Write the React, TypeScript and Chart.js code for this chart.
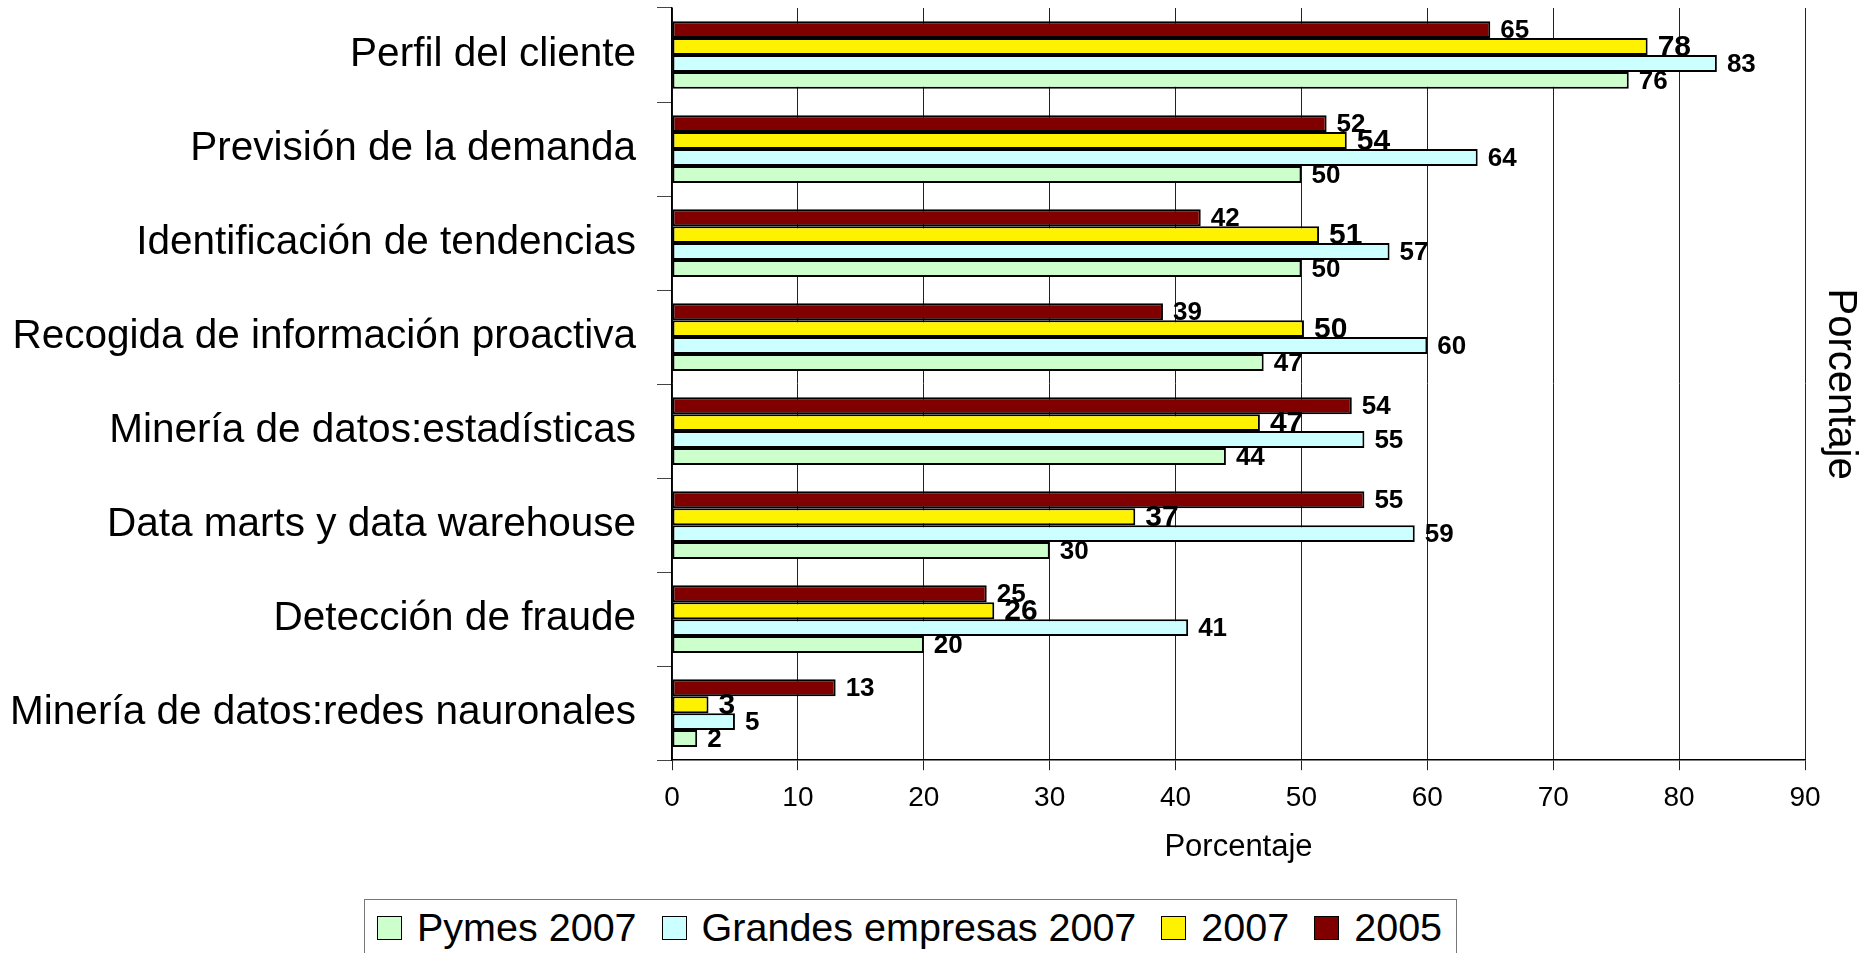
import React, { useEffect, useRef } from "react";
import { Chart, registerables } from "chart.js";

Chart.register(...registerables);

const categories = [
  "Perfil del cliente",
  "Previsión de la demanda",
  "Identificación de tendencias",
  "Recogida de información proactiva",
  "Minería de datos:estadísticas",
  "Data marts y data warehouse",
  "Detección de fraude",
  "Minería de datos:redes nauronales",
];

const values2005 = [65, 52, 42, 39, 54, 55, 25, 13];
const values2007 = [77.5, 53.6, 51.4, 50.2, 46.7, 36.8, 25.6, 2.9];
const valuesGrandes2007 = [83, 64, 57, 60, 55, 59, 41, 5];
const valuesPymes2007 = [76, 50, 50, 47, 44, 30, 20, 2];

const seriesNames = ["2005", "2007", "Grandes empresas 2007", "Pymes 2007"];
const seriesColors = ["#800000", "#FFF200", "#CCFFFF", "#CCFFCC"];
const seriesValues = [values2005, values2007, valuesGrandes2007, valuesPymes2007];

const xMin = 0;
const xMax = 90;
const xStep = 10;
const axisTitle = "Porcentaje";

const FONT = '"Liberation Sans", Arial, Helvetica, sans-serif';

const valueLabels = {
  id: "valueLabels",
  afterDatasetsDraw(chart: any) {
    const ctx = chart.ctx;
    chart.data.datasets.forEach((ds: any, i: number) => {
      const meta = chart.getDatasetMeta(i);
      const big = ds.label === "2007";
      ctx.save();
      ctx.font = `bold ${big ? 30 : 26}px ${FONT}`;
      ctx.fillStyle = "#000";
      ctx.textBaseline = "middle";
      ctx.textAlign = "left";
      meta.data.forEach((bar: any, j: number) => {
        ctx.fillText(String(Math.round(ds.data[j])), bar.x + 10, bar.y + 1);
      });
      ctx.restore();
    });
  },
};

export default function App() {
  const ref = useRef<HTMLCanvasElement | null>(null);

  useEffect(() => {
    if (!ref.current) return;
    Chart.defaults.font.family = FONT;
    const chart = new Chart(ref.current, {
      type: "bar",
      data: {
        labels: categories,
        datasets: seriesNames.map((name, i) => ({
          label: name,
          data: seriesValues[i],
          backgroundColor: seriesColors[i],
          borderColor: "#000",
          borderWidth: 2,
          borderSkipped: false,
          categoryPercentage: 0.72,
          barPercentage: 1.0,
        })),
      },
      options: {
        indexAxis: "y",
        animation: false,
        responsive: false,
        maintainAspectRatio: false,
        layout: { padding: { top: 8, left: 0, right: 0, bottom: 0 } },
        plugins: {
          legend: { display: false },
          tooltip: { enabled: false },
          title: { display: false },
        },
        scales: {
          x: {
            type: "linear",
            min: xMin,
            max: xMax,
            ticks: {
              stepSize: xStep,
              color: "#000",
              font: { size: 28 },
              padding: 11,
            },
            grid: {
              color: "#222",
              lineWidth: 1,
              tickLength: 10,
              drawTicks: true,
            },
            border: { color: "#000", width: 1.5 },
            title: {
              display: true,
              text: axisTitle,
              color: "#000",
              font: { size: 31 },
              padding: { top: 3, bottom: 0 },
            },
          },
          y: {
            type: "category",
            ticks: {
              color: "#000",
              font: { size: 40.5 },
              padding: 21,
            },
            grid: {
              drawOnChartArea: false,
              color: "#444",
              tickLength: 15,
              offset: true,
            },
            border: { color: "#000", width: 1.5 },
            afterFit: (scale: any) => {
              scale.width = 672;
              scale.paddingTop = 0;
              scale.paddingBottom = 0;
            },
          },
          y2: {
            type: "linear",
            position: "right",
            display: true,
            ticks: { display: false },
            grid: { display: false, drawTicks: false },
            border: { display: false },
            title: {
              display: true,
              text: axisTitle,
              color: "#000",
              font: { size: 40 },
              padding: { top: 0, bottom: 11 },
            },
          },
        },
      },
      plugins: [valueLabels],
    } as any);
    return () => chart.destroy();
  }, []);

  const legendOrder = [3, 2, 1, 0];

  return (
    <div
      style={{
        position: "absolute",
        left: 0,
        top: 0,
        width: 1864,
        height: 953,
        overflow: "hidden",
        background: "#fff",
      }}
    >
      <canvas ref={ref} width={1864} height={866} style={{ display: "block" }} />
      <div
        style={{
          position: "absolute",
          left: 364,
          top: 899,
          width: 1093,
          height: 80,
          border: "1.5px solid #777",
          boxSizing: "border-box",
          fontFamily: FONT,
          fontSize: 39.5,
          color: "#000",
        }}
      >
        <div
          style={{
            display: "flex",
            alignItems: "center",
            height: 54,
            paddingLeft: 12,
            whiteSpace: "nowrap",
          }}
        >
          {legendOrder.map((i, k) => (
            <div
              key={seriesNames[i]}
              style={{ display: "flex", alignItems: "center", marginLeft: k === 0 ? 0 : 25 }}
            >
              <span
                style={{
                  display: "inline-block",
                  width: 25,
                  height: 24,
                  boxSizing: "border-box",
                  background: seriesColors[i],
                  border: "1.5px solid #000",
                  marginRight: 15,
                  marginTop: 2,
                }}
              />
              <span style={{ lineHeight: "46px" }}>{seriesNames[i]}</span>
            </div>
          ))}
        </div>
      </div>
    </div>
  );
}
